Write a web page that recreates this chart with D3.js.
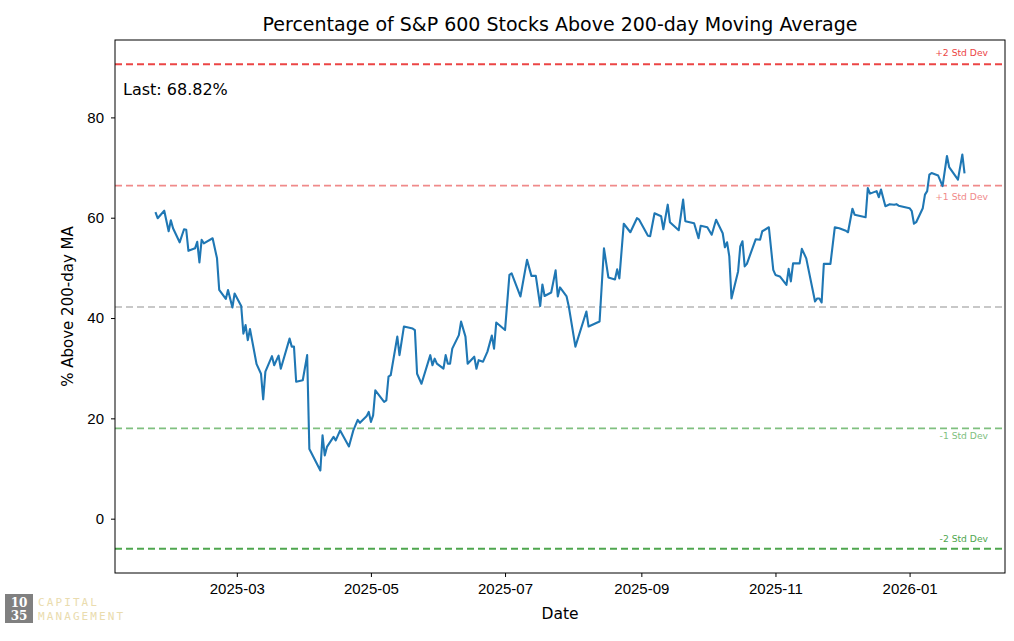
<!DOCTYPE html>
<html>
<head>
<meta charset="utf-8">
<script src="https://cdn.jsdelivr.net/npm/d3@7"></script>
<style>
  body { margin: 0; background: #fff; }
  svg { font-family: "DejaVu Sans", sans-serif; }
  .axis path, .axis line { stroke: #000; }
  .axis text { font-size: 15px; fill: #000; }
</style>
</head>
<body>
<div id="chart"></div>
<script>
// percent of S&P 600 names above their 200-day MA
var dates = ["2025-01-23","2025-01-24","2025-01-27","2025-01-29","2025-01-30","2025-01-31","2025-02-03","2025-02-05","2025-02-06","2025-02-07",
  "2025-02-10","2025-02-11","2025-02-12","2025-02-13","2025-02-14","2025-02-18","2025-02-20","2025-02-21","2025-02-24","2025-02-25",
  "2025-02-27","2025-02-28","2025-03-03","2025-03-04","2025-03-05","2025-03-06","2025-03-07","2025-03-10","2025-03-12","2025-03-13",
  "2025-03-14","2025-03-17","2025-03-18","2025-03-20","2025-03-21","2025-03-25","2025-03-26","2025-03-27","2025-03-28","2025-03-31",
  "2025-04-02","2025-04-03","2025-04-08","2025-04-09","2025-04-10","2025-04-11","2025-04-14","2025-04-15","2025-04-17","2025-04-21",
  "2025-04-23","2025-04-25","2025-04-26","2025-04-29","2025-04-30","2025-05-01","2025-05-02","2025-05-03","2025-05-07","2025-05-08",
  "2025-05-09","2025-05-10","2025-05-13","2025-05-14","2025-05-16","2025-05-20","2025-05-21","2025-05-22","2025-05-24","2025-05-28",
  "2025-05-29","2025-05-30","2025-05-31","2025-06-03","2025-06-04","2025-06-05","2025-06-06","2025-06-07","2025-06-10","2025-06-11",
  "2025-06-13","2025-06-14","2025-06-17","2025-06-18","2025-06-19","2025-06-21","2025-06-23","2025-06-25","2025-06-26","2025-06-27",
  "2025-07-01","2025-07-03","2025-07-04","2025-07-08","2025-07-11","2025-07-13","2025-07-15","2025-07-17","2025-07-18","2025-07-19",
  "2025-07-22","2025-07-24","2025-07-25","2025-07-26","2025-07-29","2025-07-30","2025-08-02","2025-08-07","2025-08-08","2025-08-13",
  "2025-08-15","2025-08-17","2025-08-20","2025-08-21","2025-08-22","2025-08-24","2025-08-27","2025-08-30","2025-08-31","2025-09-04",
  "2025-09-05","2025-09-07","2025-09-10","2025-09-11","2025-09-13","2025-09-14","2025-09-18","2025-09-20","2025-09-21","2025-09-25",
  "2025-09-27","2025-09-28","2025-10-01","2025-10-03","2025-10-05","2025-10-08","2025-10-09","2025-10-10","2025-10-11","2025-10-12",
  "2025-10-15","2025-10-16","2025-10-17","2025-10-18","2025-10-19","2025-10-23","2025-10-25","2025-10-26","2025-10-29","2025-10-31",
  "2025-11-01","2025-11-03","2025-11-06","2025-11-07","2025-11-08","2025-11-09","2025-11-12","2025-11-13","2025-11-15","2025-11-19",
  "2025-11-20","2025-11-21","2025-11-22","2025-11-23","2025-11-26","2025-11-28","2025-11-30","2025-12-03","2025-12-04","2025-12-06",
  "2025-12-07","2025-12-12","2025-12-13","2025-12-14","2025-12-17","2025-12-18","2025-12-19","2025-12-21","2025-12-23","2025-12-25",
  "2025-12-26","2025-12-27","2026-01-01","2026-01-02","2026-01-03","2026-01-04","2026-01-07","2026-01-08","2026-01-09","2026-01-10",
  "2026-01-11","2026-01-14","2026-01-16","2026-01-18","2026-01-19","2026-01-23","2026-01-25","2026-01-26"];

var pctAbove = [61.1,59.9,61.4,57.3,59.5,57.9,55.1,57.7,57.6,53.4,
  53.9,55.2,51.1,55.6,54.9,55.9,51.9,45.6,43.8,45.6,
  42.1,44.9,42.4,36.9,38.6,35.6,37.8,30.8,28.9,23.8,
  29.3,32.4,30.6,32.5,29.9,35.9,34.3,34.3,27.3,27.6,
  32.6,13.9,9.6,16.6,12.6,14.3,16.3,15.6,17.6,14.4,
  17.6,19.7,19.1,20.4,21.3,19.3,20.6,25.6,23.3,23.6,
  28.3,28.6,36.3,32.6,38.3,37.9,37.6,28.9,26.9,32.6,
  30.6,31.9,30.9,29.9,32.6,30.9,30.9,33.9,36.6,39.3,
  36.3,30.9,32.3,29.9,31.6,31.3,33.3,36.5,33.9,39.1,
  37.6,48.6,48.9,44.3,51.6,48.4,48.4,42.4,46.7,44.4,
  45.1,49.5,44.3,46.1,44.3,42.3,34.3,41.3,38.3,39.3,
  53.9,48.1,47.7,49.7,47.9,58.8,57.1,59.9,59.6,56.4,
  56.3,60.9,60.3,57.7,62.6,59.1,57.5,63.6,59.3,58.9,
  55.9,58.4,58.1,56.6,59.6,56.9,54.1,55.1,52.3,43.9,
  49.3,54.3,55.3,50.3,50.8,55.7,55.6,57.3,58.1,49.6,
  48.6,48.3,46.6,49.8,47.3,50.9,50.9,53.8,51.9,43.3,
  43.9,43.9,43.1,50.8,50.8,58.1,57.9,57.4,57.1,61.8,
  60.6,60.1,65.9,64.8,65.3,64.1,65.6,62.3,62.7,62.6,
  62.7,62.4,61.9,61.3,58.8,59.1,61.9,64.6,65.3,68.6,
  68.9,68.4,66.3,72.3,70.1,67.6,72.6,68.82];

// std-dev band levels
var bandNames = ["+2 Std Dev", "+1 Std Dev", "", "-1 Std Dev", "-2 Std Dev"];
var bandLevels = [90.6, 66.4, 42.2, 18.0, -6.0];
var bandColors = ["#ec4545", "#f08a8a", "#c8c8c8", "#80c080", "#4ea64e"];

var W = 1014, H = 641;
var margin = {top: 40, right: 9, bottom: 68, left: 115},
    width = W - margin.left - margin.right,
    height = H - margin.top - margin.bottom;

var parse = d3.utcParse("%Y-%m-%d");
var data = dates.map(function(d, i) { return {date: parse(d), value: pctAbove[i]}; });

var svg = d3.select("#chart").append("svg")
    .attr("width", W)
    .attr("height", H);

var g = svg.append("g")
    .attr("transform", "translate(" + margin.left + "," + margin.top + ")");

// matplotlib style 5% padding
var xExt = d3.extent(data, function(d) { return d.date; });
var xPad = (xExt[1] - xExt[0]) * 0.05;
var xScale = d3.scaleUtc()
    .domain([new Date(+xExt[0] - xPad), new Date(+xExt[1] + xPad)])
    .range([0, width]);

var yLo = d3.min(bandLevels.concat(pctAbove)), yHi = d3.max(bandLevels.concat(pctAbove));
var yPad = (yHi - yLo) * 0.05;
var yScale = d3.scaleLinear()
    .domain([yLo - yPad, yHi + yPad])
    .range([height, 0]);

// bands
g.selectAll(".band")
    .data(bandLevels)
  .enter().append("line")
    .attr("class", "band")
    .attr("x1", 0).attr("x2", width)
    .attr("y1", function(d) { return yScale(d); })
    .attr("y2", function(d) { return yScale(d); })
    .style("stroke", function(d, i) { return bandColors[i]; })
    .style("stroke-width", 1.8)
    .style("stroke-dasharray", "7,4");

// band labels: some sit above the line, some below
var labelDy = [-8, 14, 0, 11, -7];
g.selectAll(".bandlabel")
    .data(bandLevels)
  .enter().append("text")
    .filter(function(d, i) { return bandNames[i] !== ""; })
    .attr("x", width - 17)
    .attr("y", function(d) { return yScale(d) + labelDy[bandLevels.indexOf(d)]; })
    .attr("text-anchor", "end")
    .style("font-size", "9.2px")
    .style("fill", function(d) { return bandColors[bandLevels.indexOf(d)]; })
    .text(function(d) { return bandNames[bandLevels.indexOf(d)]; });

var line = d3.line()
    .x(function(d) { return xScale(d.date); })
    .y(function(d) { return yScale(d.value); });

g.append("path")
    .datum(data)
    .attr("fill", "none")
    .style("stroke", "#1f77b4")
    .style("stroke-width", 2.1)
    .style("stroke-linejoin", "round")
    .attr("d", line);

// axes
var xAxis = d3.axisBottom(xScale)
    .ticks(d3.utcMonth.every(2))
    .tickFormat(d3.utcFormat("%Y-%m"))
    .tickSize(4)
    .tickPadding(6);
var yAxis = d3.axisLeft(yScale)
    .ticks(5)
    .tickSize(4)
    .tickPadding(7);

g.append("g")
    .attr("class", "x axis")
    .attr("transform", "translate(0," + height + ")")
    .call(xAxis)
    .select(".domain").remove();

g.append("g")
    .attr("class", "y axis")
    .call(yAxis)
    .select(".domain").remove();

// frame
g.append("rect")
    .attr("width", width).attr("height", height)
    .attr("fill", "none")
    .style("stroke", "#000")
    .style("stroke-width", 1);

svg.append("text")
    .attr("x", margin.left + width / 2)
    .attr("y", 31)
    .attr("text-anchor", "middle")
    .style("font-size", "19px")
    .text("Percentage of S&P 600 Stocks Above 200-day Moving Average");

svg.append("text")
    .attr("x", margin.left + width / 2)
    .attr("y", 619)
    .attr("text-anchor", "middle")
    .style("font-size", "15.5px")
    .text("Date");

svg.append("text")
    .attr("transform", "translate(73," + (margin.top + height / 2) + ") rotate(-90)")
    .attr("text-anchor", "middle")
    .style("font-size", "15px")
    .text("% Above 200-day MA");

g.append("text")
    .attr("x", 8)
    .attr("y", 55)
    .style("font-size", "16px")
    .text("Last: " + pctAbove[pctAbove.length - 1].toFixed(2) + "%");

// logo
var logo = svg.append("g").attr("transform", "translate(5,594)");
logo.append("rect").attr("width", 28).attr("height", 29).attr("fill", "#808080");
logo.append("text").attr("x", 14).attr("y", 13).attr("text-anchor", "middle")
    .style("font-family", "'DejaVu Serif', serif").style("font-size", "12px").style("font-weight", "bold")
    .attr("fill", "#fff").text("10");
logo.append("text").attr("x", 14).attr("y", 26).attr("text-anchor", "middle")
    .style("font-family", "'DejaVu Serif', serif").style("font-size", "12px").style("font-weight", "bold")
    .attr("fill", "#fff").text("35");
logo.append("text").attr("x", 33).attr("y", 12)
    .style("font-family", "'DejaVu Sans Mono', monospace").style("font-size", "11px")
    .style("letter-spacing", "2.1px").attr("fill", "#eadcae").text("CAPITAL");
logo.append("text").attr("x", 33).attr("y", 26)
    .style("font-family", "'DejaVu Sans Mono', monospace").style("font-size", "11px")
    .style("letter-spacing", "2.1px").attr("fill", "#eadcae").text("MANAGEMENT");
</script>
</body>
</html>
